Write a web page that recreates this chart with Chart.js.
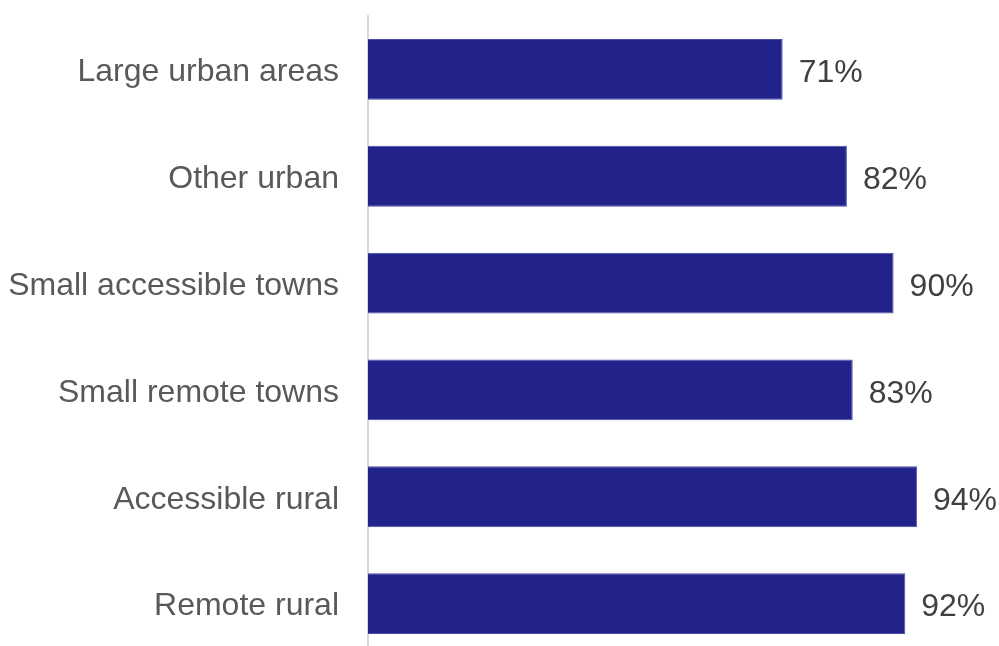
<!DOCTYPE html>
<html>
<head>
<meta charset="utf-8">
<script src="https://cdn.jsdelivr.net/npm/chart.js@4/dist/chart.umd.min.js"></script>
<style>
  html, body { margin: 0; padding: 0; background: #fff; overflow: hidden; }
  /* the plot runs a little past the bottom of the window */
  #wrap { width: 999px; height: 657px; }
</style>
</head>
<body>
<div id="wrap"><canvas id="areaChart"></canvas></div>
<script>
const areas = [
    'Large urban areas',
    'Other urban',
    'Small accessible towns',
    'Small remote towns',
    'Accessible rural',
    'Remote rural'
];
const shares = [71, 82, 90, 83, 94, 92];

const FONT = '"Liberation Sans", Arial, sans-serif';

// writes "NN%" just past the end of each bar
const valueLabels = {
    id: 'valueLabels',
    afterDatasetsDraw(chart) {
        const ctx = chart.ctx;
        ctx.save();
        ctx.font = '32px ' + FONT;
        ctx.fillStyle = '#404040';
        ctx.textAlign = 'left';
        ctx.textBaseline = 'middle';
        chart.getDatasetMeta(0).data.forEach(function (bar, i) {
            ctx.fillText(shares[i] + '%', bar.x + 16, bar.y + 4);
        });
        ctx.restore();
    }
};

const config = {
    type: 'bar',
    data: {
        labels: areas,
        datasets: [{
            data: shares,
            backgroundColor: '#22228B',
            borderColor: '#4a4aa8',
            borderWidth: 1,
            barPercentage: 0.57,
            categoryPercentage: 1
        }]
    },
    options: {
        indexAxis: 'y',
        responsive: true,
        maintainAspectRatio: false,
        animation: false,
        layout: {
            padding: { top: 16, right: 47, bottom: 0, left: 0 }
        },
        scales: {
            x: {
                display: false,
                min: 0,
                max: 100
            },
            y: {
                afterFit: function (scale) {
                    scale.width = 368;
                    scale.paddingTop = 0;
                    scale.paddingBottom = 0;
                },
                grid: {
                    display: false,
                    drawTicks: false
                },
                border: {
                    display: true,
                    color: '#d9d9d9',
                    width: 2
                },
                ticks: {
                    padding: 29,
                    labelOffset: 3,
                    color: '#595959',
                    font: { family: FONT, size: 32 }
                }
            }
        },
        plugins: {
            legend: { display: false },
            tooltip: { enabled: false }
        }
    },
    plugins: [valueLabels]
};

const areaChart = new Chart(document.getElementById('areaChart'), config);
</script>
</body>
</html>
